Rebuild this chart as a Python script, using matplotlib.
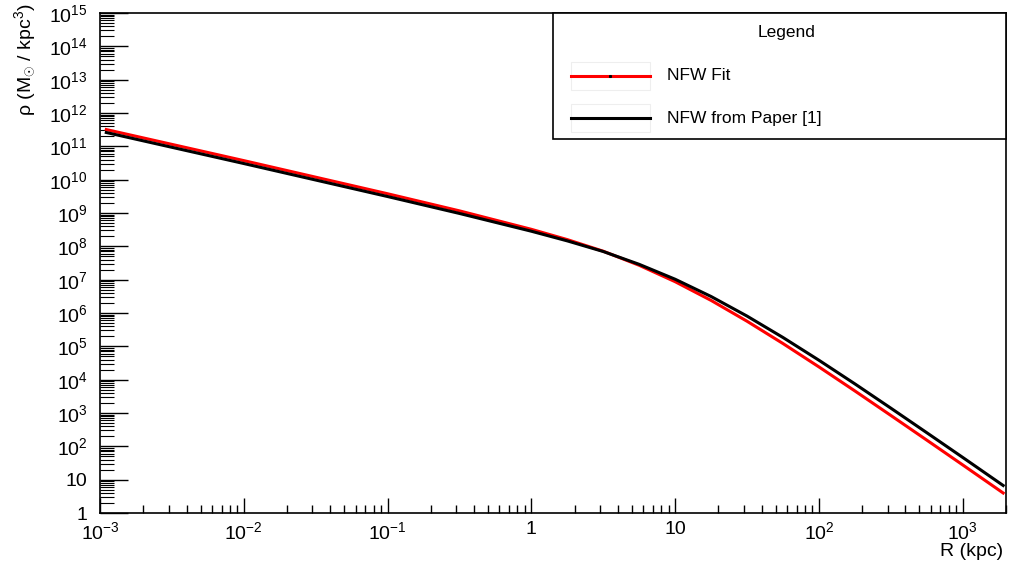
import matplotlib
matplotlib.use("Agg")
import matplotlib.pyplot as plt
from matplotlib.lines import Line2D
from matplotlib.patches import Rectangle
from matplotlib.ticker import LogLocator, FixedLocator, NullFormatter

plt.rcParams['font.family'] = ['Liberation Sans', 'DejaVu Sans']
plt.rcParams['mathtext.fontset'] = 'custom'
plt.rcParams['mathtext.rm'] = 'Liberation Sans'
plt.rcParams['mathtext.it'] = 'Liberation Sans'
plt.rcParams['mathtext.bf'] = 'Liberation Sans'

# radius (kpc) sample points
radius = [0.00108, 0.01, 0.1, 0.316, 1, 1.78, 3.16, 5.62, 10, 17.8, 31.6,
          56.2, 100, 178, 316, 562, 1000, 1950]
# density (M_sun / kpc^3)
rho_fit = [3.26e11, 3.73e10, 3.78e9, 1.16e9, 3.24e8, 1.59e8, 7.15e7, 2.70e7,
           8.69e6, 2.38e6, 5.67e5, 1.214e5, 2.415e4, 4.58e3, 847, 154, 27.7, 3.75]
rho_paper = [2.66e11, 3.05e10, 3.12e9, 9.7e8, 2.84e8, 1.455e8, 7.00e7, 2.886e7,
             1.030e7, 3.12e6, 8.09e5, 1.845e5, 3.83e4, 7.46e3, 1402, 257, 46.5, 6.3]
series_labels = ["NFW Fit", "NFW from Paper [1]"]
legend_title = "Legend"

x_ticks = [1e-3, 1e-2, 1e-1, 1, 10, 1e2, 1e3]
x_ticklabels = [r"$10^{-3}$", r"$10^{-2}$", r"$10^{-1}$", "1", "10", r"$10^{2}$", r"$10^{3}$"]
y_ticks = [10.0 ** k for k in range(0, 16)]
y_ticklabels = ["1", "10"] + [r"$10^{%d}$" % k for k in range(2, 16)]

W, H = 1010, 563
fig = plt.figure(figsize=(W / 100, H / 100), dpi=100)
ax = fig.add_axes([100 / W, 1 - 513 / H, (1006 - 100) / W, (513 - 13) / H])

ax.plot(radius, rho_fit, color='#ff0000', lw=2.2, solid_capstyle='butt', zorder=3)
ax.plot(radius, rho_paper, color='black', lw=2.2, solid_capstyle='butt', zorder=4)

ax.set_xscale('log')
ax.set_yscale('log')
ax.set_xlim(1e-3, 2000)
ax.set_ylim(1, 1e15)

ax.xaxis.set_major_locator(FixedLocator(x_ticks))
ax.set_xticklabels(x_ticklabels)
ax.xaxis.set_minor_locator(LogLocator(base=10, subs=range(2, 10), numticks=100))
ax.xaxis.set_minor_formatter(NullFormatter())
ax.yaxis.set_major_locator(FixedLocator(y_ticks))
ax.set_yticklabels(y_ticklabels)
ax.yaxis.set_minor_locator(LogLocator(base=10, subs=range(2, 10), numticks=100))
ax.yaxis.set_minor_formatter(NullFormatter())

ax.tick_params(axis='x', which='major', direction='in', length=11, width=1.0,
               labelsize=14, pad=6, top=False)
ax.tick_params(axis='x', which='minor', direction='in', length=6, width=1.0, top=False)
ax.tick_params(axis='y', which='major', direction='in', length=20, width=1.0,
               labelsize=14, pad=9, right=False)
ax.tick_params(axis='y', which='minor', direction='in', length=10, width=0.8, right=False)
for s in ax.spines.values():
    s.set_linewidth(1.2)

# axis titles (ROOT style, at the axis ends)
fig.text(1003 / W, 1 - 551 / H, "R (kpc)", ha='right', va='center', fontsize=14)
fig.text(25 / W, 1 - 3 / H, r"ρ (M$_{\odot}$ / kpc$^{3}$)", rotation=90,
         ha='center', va='top', fontsize=14)

# legend box drawn ROOT style
def fx(px):
    return px / W

def fy(py):
    return 1 - py / H

fig.add_artist(Rectangle((fx(553), fy(139)), fx(1006) - fx(553), fy(13) - fy(139),
                         transform=fig.transFigure, facecolor='white',
                         edgecolor='black', lw=1.2, zorder=10))
fig.text(fx(787), fy(33), legend_title, ha='center', va='center', fontsize=12.5, zorder=11)
colors = ['#ff0000', 'black']
rows = [76, 118]
for lab, c, yy in zip(series_labels, colors, rows):
    fig.add_artist(Rectangle((fx(571), fy(yy + 14)), fx(650) - fx(571), fy(yy - 14) - fy(yy + 14),
                             transform=fig.transFigure, facecolor='none',
                             edgecolor='#eeeeee', lw=0.8, zorder=11))
    fig.add_artist(Line2D([fx(571), fx(650)], [fy(yy), fy(yy)], transform=fig.transFigure,
                         color=c, lw=2.2, zorder=12))
    fig.text(fx(667), fy(yy), lab, ha='left', va='center', fontsize=12.5, zorder=12)
# tiny marker dot on the fit entry
fig.add_artist(Line2D([fx(610)], [fy(76)], transform=fig.transFigure, marker='s',
                      markersize=1.2, color='black', lw=0, zorder=13))

fig.savefig("out.png", dpi=100)
